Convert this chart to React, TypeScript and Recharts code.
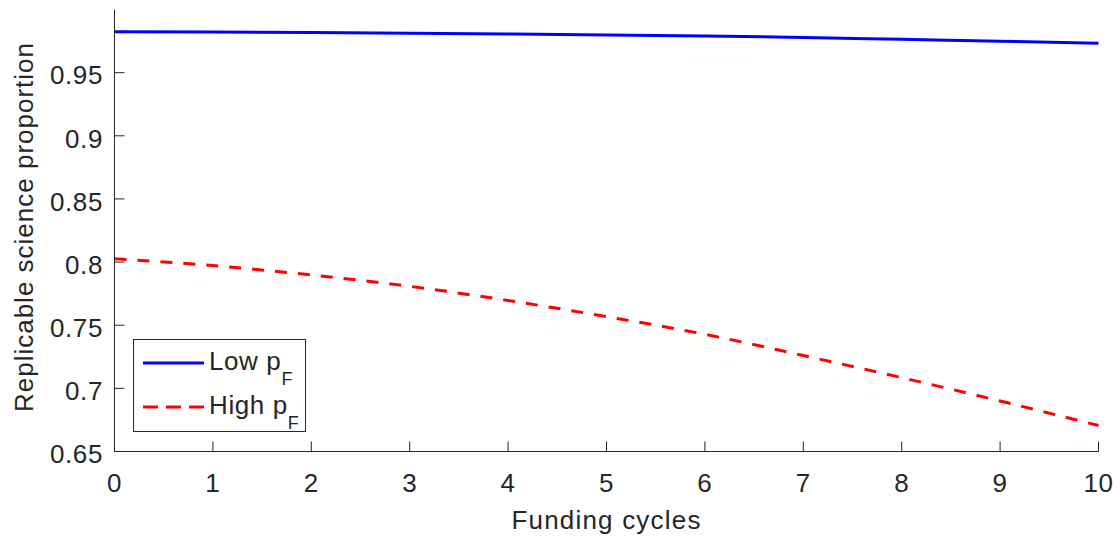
import React from 'react';
import { LineChart, Line, XAxis, YAxis } from 'recharts';

const cycles = [0, 1, 2, 3, 4, 5, 6, 7, 8, 9, 10];
const lowPF = [0.9824, 0.9821, 0.9817, 0.9812, 0.9806, 0.9799, 0.979, 0.9779, 0.9764, 0.9749, 0.9732];
const highPF = [0.8027, 0.7972, 0.7898, 0.7808, 0.7696, 0.7568, 0.7428, 0.726, 0.7085, 0.69, 0.6706];
const xTicks = [0, 1, 2, 3, 4, 5, 6, 7, 8, 9, 10];
const yTicks = [0.65, 0.7, 0.75, 0.8, 0.85, 0.9, 0.95];
const seriesNames = ['Low', 'High'];

const data = cycles.map((c, i) => ({ cycle: c, low: lowPF[i], high: highPF[i] }));

const INK = '#262626';
const FONT = '"Liberation Sans", Arial, Helvetica, sans-serif';

const XLabel = (props: any) => {
  const vb = props.viewBox;
  return (
    <text x={vb.x + vb.width / 2} y={vb.y + 77} textAnchor="middle" fill={INK} fontSize={26} letterSpacing={1.2} fontFamily={FONT}>
      Funding cycles
    </text>
  );
};

const YLabel = (props: any) => {
  const vb = props.viewBox;
  const cx = vb.x + 33;
  const cy = 227;
  return (
    <text x={cx} y={cy} transform={`rotate(-90, ${cx}, ${cy})`} textAnchor="middle" fill={INK} fontSize={26} letterSpacing={1} fontFamily={FONT}>
      Replicable science proportion
    </text>
  );
};

const LegendBox = () => (
  <div style={{ position: 'absolute', left: 133, top: 339, width: 173, height: 93 }}>
    <svg width={173} height={93}>
      <rect x={0.5} y={0.5} width={172} height={92} fill="#fff" stroke={INK} strokeWidth={1} />
      <line x1={10} x2={71} y1={24} y2={24} stroke="#0000ff" strokeWidth={3} />
      <line x1={10} x2={71} y1={68} y2={68} stroke="#ff0000" strokeWidth={3} strokeDasharray="15 8" />
      <text x={76} y={31} fill={INK} fontSize={26} letterSpacing={0.6} fontFamily={FONT}>
        {seriesNames[0]} p<tspan fontSize={18} dy={15}>F</tspan>
      </text>
      <text x={76} y={75} fill={INK} fontSize={26} letterSpacing={0.6} fontFamily={FONT}>
        {seriesNames[1]} p<tspan fontSize={18} dy={15}>F</tspan>
      </text>
    </svg>
  </div>
);

export default function App() {
  const tickStyle = { fill: INK, fontSize: 26, fontFamily: FONT, letterSpacing: 0.6 };
  return (
    <div style={{ position: 'absolute', left: 0, top: 0, width: 1116, height: 540, background: '#fff' }}>
      <LineChart width={1116} height={540} data={data} margin={{ top: 9.5, right: 17.5, bottom: 0, left: 0 }}>
        <XAxis
          dataKey="cycle"
          type="number"
          domain={[0, 10]}
          ticks={xTicks}
          height={88.5}
          stroke={INK}
          tickSize={-10}
          tickMargin={32}
          tick={tickStyle}
          label={<XLabel />}
        />
        <XAxis
          xAxisId="top"
          orientation="top"
          dataKey="cycle"
          type="number"
          domain={[0, 10]}
          ticks={xTicks}
          height={0}
          stroke={INK}
          tickSize={-10}
          tick={false}
        />
        <YAxis
          type="number"
          domain={[0.65, 1]}
          ticks={yTicks}
          width={114.5}
          stroke={INK}
          tickSize={-10}
          tickMargin={21.5}
          tick={{ ...tickStyle, dy: 2.5 }}
          tickFormatter={(v: number) => String(v)}
          label={<YLabel />}
        />
        <YAxis
          yAxisId="right"
          orientation="right"
          type="number"
          domain={[0.65, 1]}
          ticks={yTicks}
          width={0}
          stroke={INK}
          tickSize={-10}
          tick={false}
        />
        <Line
          dataKey="low"
          name={seriesNames[0]}
          type="monotone"
          stroke="#0000ff"
          strokeWidth={3}
          dot={false}
          isAnimationActive={false}
        />
        <Line
          dataKey="high"
          name={seriesNames[1]}
          type="monotone"
          stroke="#ff0000"
          strokeWidth={3}
          strokeDasharray="12 11"
          dot={false}
          isAnimationActive={false}
        />
      </LineChart>
      <LegendBox />
    </div>
  );
}
